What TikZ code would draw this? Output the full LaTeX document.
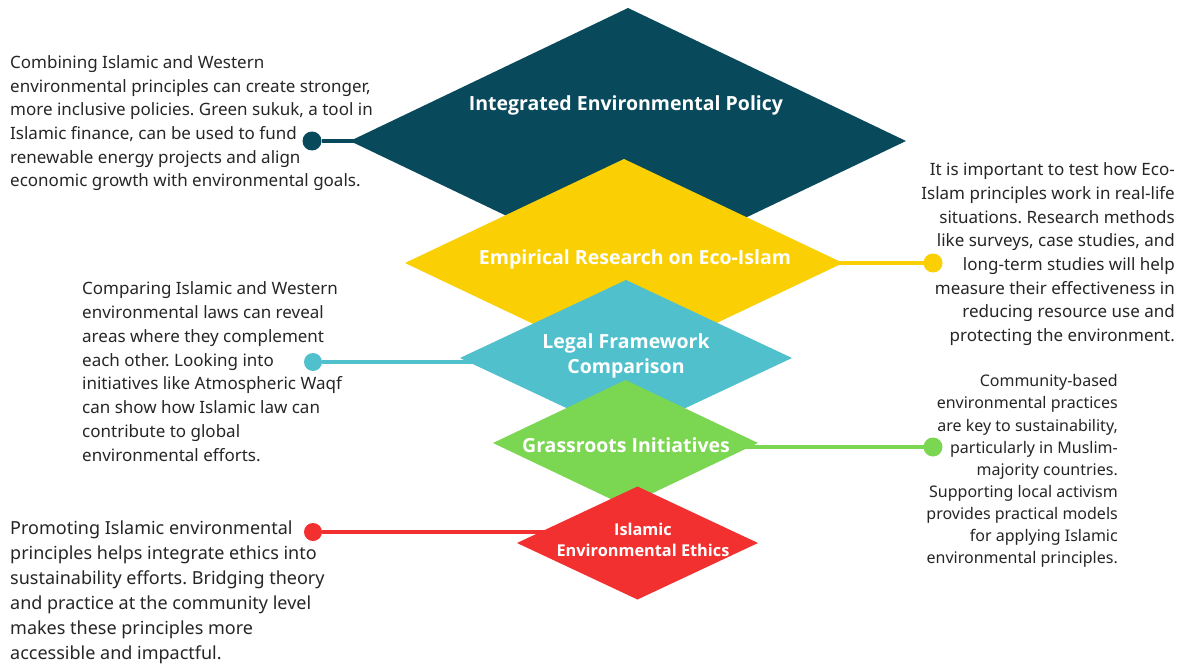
\documentclass[tikz,border=0pt]{standalone}
\usepackage{fontspec}
\setmainfont{Noto Sans}
\newfontfamily\labfont{Open Sans}
\usetikzlibrary{shapes.geometric,calc}
\pgfdeclarelayer{bg}
\pgfsetlayers{bg,main}
\definecolor{cDark}{HTML}{084A5C}
\definecolor{cYellow}{HTML}{FAD005}
\definecolor{cCyan}{HTML}{50C0CC}
\definecolor{cGreen}{HTML}{7BD652}
\definecolor{cRed}{HTML}{F23030}
\definecolor{cText}{HTML}{262626}
\frenchspacing
\begin{document}
\begin{tikzpicture}[x=1pt,y=-1pt,
  dia/.style={diamond,draw=none,inner sep=0pt,outer sep=0pt},
  dlabel/.style={text=white,font=\labfont\bfseries\fontsize{19.5}{25}\selectfont,align=center,inner sep=0pt},
  para/.style={text=cText,inner sep=0pt},
  dotnode/.style={circle,inner sep=0pt,outer sep=0pt,minimum size=19pt},
  conn/.style={line width=4pt}]
\begin{pgfonlayer}{bg}
\path[use as bounding box,fill=white] (0,0) rectangle (1180,666);
\end{pgfonlayer}

% diamonds (stacked)
\node[dia,fill=cDark,minimum width=556pt,minimum height=266pt] (d1) at (628,141) {};
\node[dia,fill=cYellow,minimum width=438pt,minimum height=208pt] (d2) at (624,263) {};
\node[dia,fill=cCyan,minimum width=332pt,minimum height=156pt] (d3) at (626,358) {};
\node[dia,fill=cGreen,minimum width=265pt,minimum height=126pt] (d4) at (625.5,443) {};
\node[dia,fill=cRed,minimum width=241pt,minimum height=113pt] (d5) at (637.5,543) {};

% labels
\node[dlabel] (l1) at (626,105) {Integrated Environmental Policy};
\node[dlabel] (l2) at (635,259) {Empirical Research on Eco-Islam};
\node[dlabel] (l3) at (626,356) {Legal Framework\\Comparison};
\node[dlabel] (l4) at (626,445) {Grassroots Initiatives};
\node[dlabel,font=\labfont\bfseries\fontsize{16.3}{20.5}\selectfont] (l5) at (643,540) {Islamic\\Environmental Ethics};

% dots
\node[dotnode,fill=cDark] (p1) at (312,141) {};
\node[dotnode,fill=cYellow] (p2) at (933,263) {};
\node[dotnode,fill=cCyan,minimum size=18pt] (p3) at (313,362) {};
\node[dotnode,fill=cGreen] (p4) at (933,447) {};
\node[dotnode,fill=cRed,minimum size=18pt] (p5) at (313,532) {};

% connectors
\begin{pgfonlayer}{bg}
\draw[conn,cDark] (p1) -- ($(d1.west)+(8,0)$);
\draw[conn,cYellow] ($(d2.east)+(-8,0)$) -- (p2);
\draw[conn,cCyan] (p3) -- ($(d3.west |- p3)+(20,0)$);
\draw[conn,cGreen] ($(d4.east |- p4)+(-12,0)$) -- (p4);
\draw[conn,cRed] (p5) -- ($(d5.west |- p5)+(35,0)$);
\end{pgfonlayer}

% text blocks
\node[para,anchor=north west,align=left,font=\fontsize{17}{23.6}\selectfont] (t1) at (10,55.5)
{Combining Islamic and Western\\environmental principles can create stronger,\\more inclusive policies. Green sukuk, a tool in\\Islamic finance, can be used to fund\\renewable energy projects and align\\economic growth with environmental goals.};

\node[para,anchor=north east,align=right,font=\fontsize{17}{23.7}\selectfont] (t2) at (1175,162.5)
{It is important to test how Eco-\\Islam principles work in real-life\\situations. Research methods\\like surveys, case studies, and\\long-term studies will help\\measure their effectiveness in\\reducing resource use and\\protecting the environment.};

\node[para,anchor=north west,align=left,font=\fontsize{17}{23.8}\selectfont] (t3) at (82,281.5)
{Comparing Islamic and Western\\environmental laws can reveal\\areas where they complement\\each other. Looking into\\initiatives like Atmospheric Waqf\\can show how Islamic law can\\contribute to global\\environmental efforts.};

\node[para,anchor=north east,align=right,font=\fontsize{16}{22.1}\selectfont] (t4) at (1118,374.5)
{Community-based\\environmental practices\\are key to sustainability,\\particularly in Muslim-\\majority countries.\\Supporting local activism\\provides practical models\\for applying Islamic\\environmental principles.};

\node[para,anchor=north west,align=left,font=\fontsize{18}{25}\selectfont] (t5) at (10,521)
{Promoting Islamic environmental\\principles helps integrate ethics into\\sustainability efforts. Bridging theory\\and practice at the community level\\makes these principles more\\accessible and impactful.};
\end{tikzpicture}
\end{document}
